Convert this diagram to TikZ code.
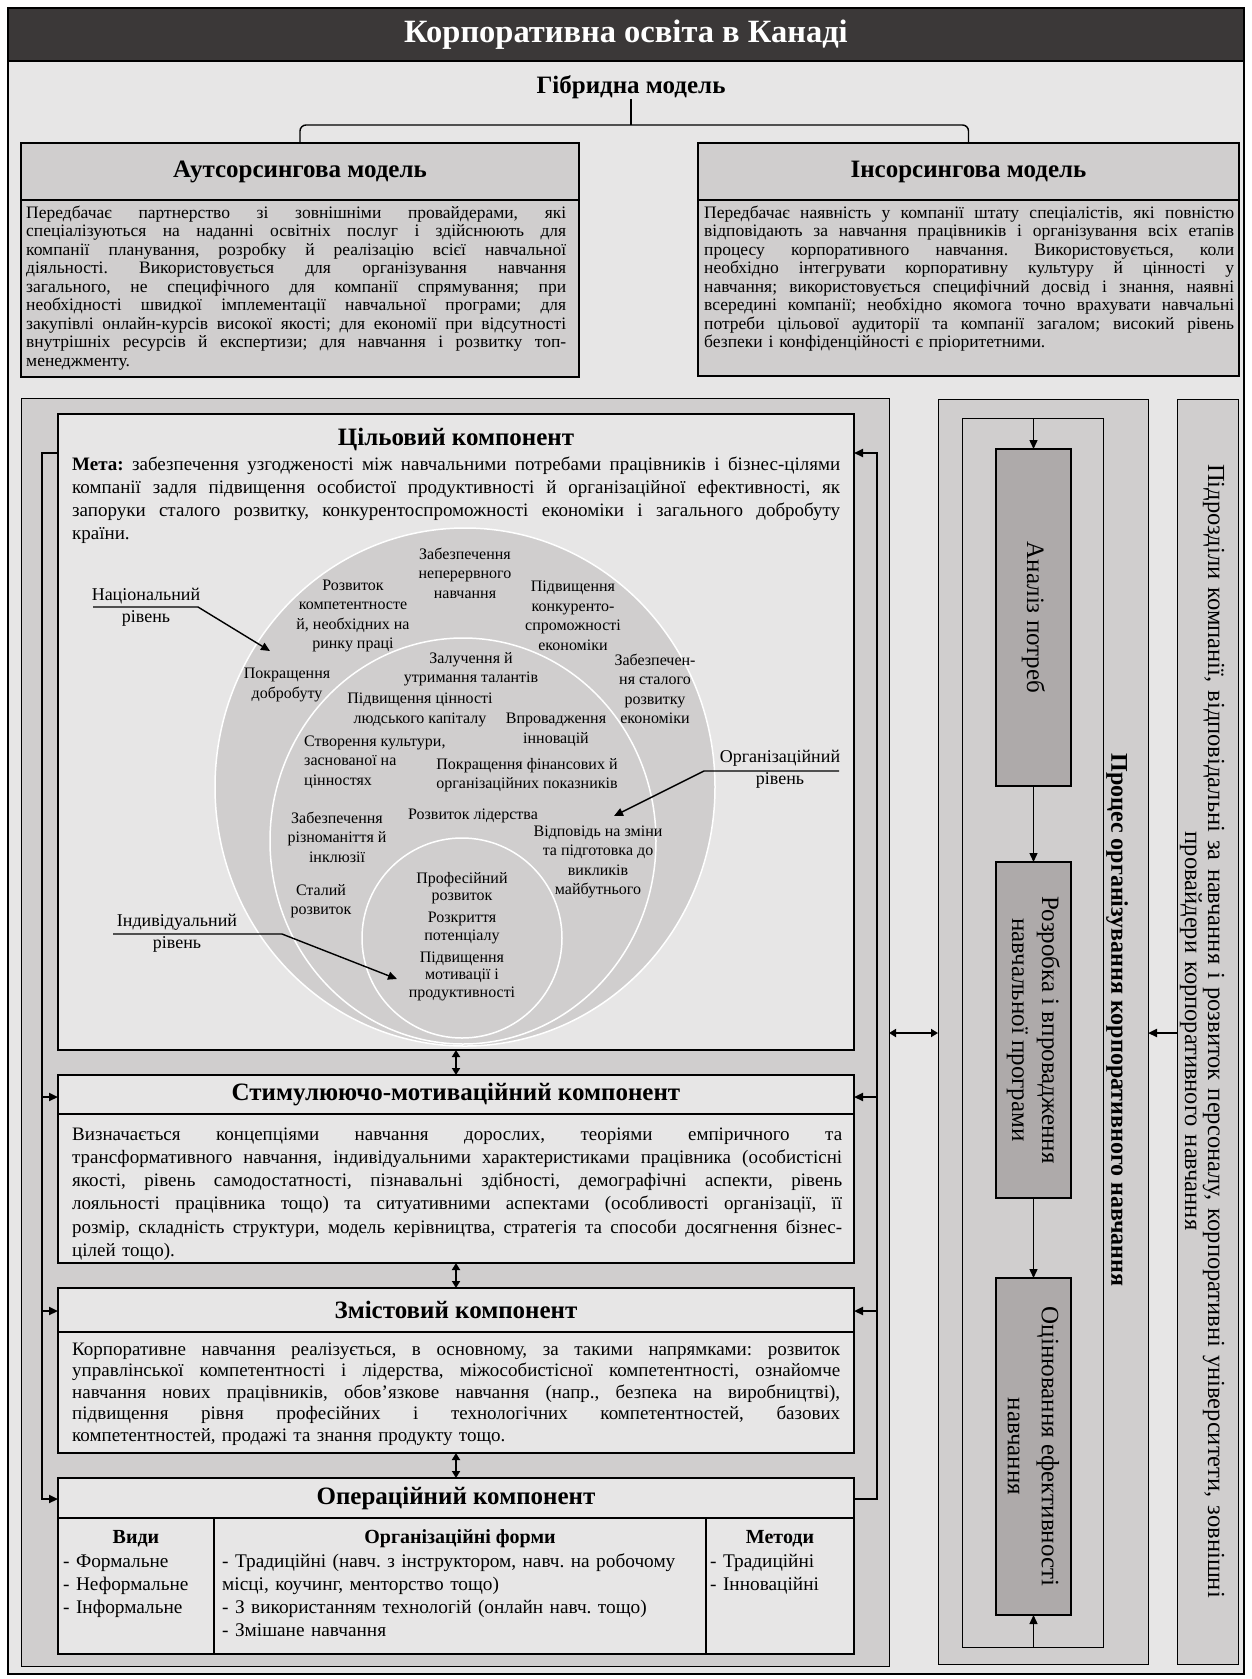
\documentclass[tikz,border=0pt]{standalone}
\usepackage{fontspec}
\setmainfont{Liberation Serif}
\usetikzlibrary{arrows.meta}
\definecolor{bg}{HTML}{E7E6E6}
\definecolor{band}{HTML}{3B3838}
\definecolor{pan}{HTML}{D0CECE}
\definecolor{dk}{HTML}{AEAAAA}
\newcommand\jl[1]{\hbox to\hsize{\spaceskip=0.25em plus 1fil\relax#1}\par}
\frenchspacing
\begin{document}
\begin{tikzpicture}[x=1pt,y=-1pt,
  >={Triangle[length=9pt,width=8pt]},
  bx/.style={draw=black, line width=1.2pt, fill=pan, inner sep=0pt, outer sep=0pt, anchor=north west},
  cb/.style={bx, fill=bg},
  db/.style={bx, fill=dk},
  ttl/.style={font=\bfseries\fontsize{25}{29}\selectfont, inner sep=0pt},
  txt/.style={anchor=base west, inner sep=0pt, align=left},
  conn/.style={line width=2pt, draw=black},
  thinarr/.style={line width=1.4pt, draw=black},
  dbl/.style={line width=2pt, {Triangle[length=7pt,width=8pt]}-{Triangle[length=7pt,width=8pt]}},
  lab/.style={font=\fontsize{16}{19.5}\selectfont, align=center, inner sep=0pt},
  ilab/.style={font=\fontsize{16}{17.5}\selectfont, align=center, inner sep=0pt},
  lvl/.style={font=\fontsize{18}{22}\selectfont, align=center, inner sep=0pt},
  rot/.style={rotate=-90, inner sep=0pt, align=center, font=\fontsize{25}{30}\selectfont}
]
\useasboundingbox (0,0) rectangle (1252,1679);
\fill[white] (0,0) rectangle (1252,1679);
% frame and title
\node[bx, fill=bg, line width=1.5pt, minimum width=1236pt, minimum height=1666pt] (frame) at (8,8) {};
\node[bx, fill=band, line width=1.5pt, minimum width=1236pt, minimum height=53pt] (band) at (8,8) {};
\node[font=\bfseries\fontsize{32.5}{37}\selectfont, text=white, inner sep=0pt] (title) at (band.center) {Корпоративна освіта в Канаді};
\node[font=\bfseries\fontsize{25}{29}\selectfont, inner sep=0pt] (hyb) at (631,87) {Гібридна модель};
% top boxes
\node[bx, minimum width=558pt, minimum height=57pt] (lh) at (21,143) {};
\node[bx, minimum width=558pt, minimum height=177pt] (lb) at (21,200) {};
\node[ttl] at (lh.center) {Аутсорсингова модель};
\node[bx, minimum width=541pt, minimum height=57pt] (rh) at (698,143) {};
\node[bx, minimum width=541pt, minimum height=176pt] (rb) at (698,200) {};
\node[ttl] at (rh.center) {Інсорсингова модель};
\coordinate (bc) at (631,125);
\draw[thinarr, rounded corners=6pt] (lh.north) -- (lh.north |- bc) -- (rh.north |- bc) -- (rh.north);
\draw[thinarr] (hyb.south) -- (bc);
\node[txt, text width=540pt, font=\fontsize{17.5}{18.5}\selectfont] (ltxt) at (26,218) {%
\jl{Передбачає партнерство зі зовнішніми провайдерами, які}
\jl{спеціалізуються на наданні освітніх послуг і здійснюють для}
\jl{компанії планування, розробку й реалізацію всієї навчальної}
\jl{діяльності. Використовується для організування навчання}
\jl{загального, не специфічного для компанії спрямування; при}
\jl{необхідності швидкої імплементації навчальної програми; для}
\jl{закупівлі онлайн-курсів високої якості; для економії при відсутності}
\jl{внутрішніх ресурсів й експертизи; для навчання і розвитку топ-}
менеджменту.};
\node[txt, text width=530pt, font=\fontsize{17.5}{18.5}\selectfont] (rtxt) at (704,218) {%
\jl{Передбачає наявність у компанії штату спеціалістів, які повністю}
\jl{відповідають за навчання працівників і організування всіх етапів}
\jl{процесу корпоративного навчання. Використовується, коли}
\jl{необхідно інтегрувати корпоративну культуру й цінності у}
\jl{навчання; використовується специфічний досвід і знання, наявні}
\jl{всередині компанії; необхідно якомога точно врахувати навчальні}
\jl{потреби цільової аудиторії та компанії загалом; високий рівень}
безпеки і конфіденційності є пріоритетними.};
% left panel
\node[bx, line width=1pt, minimum width=868pt, minimum height=1268pt] (lp) at (21,398) {};
\node[cb, minimum width=796pt, minimum height=636pt] (c1) at (58,414) {};
\node[ttl] (c1t) at (456,439) {Цільовий компонент};
\node[txt, text width=768pt, font=\fontsize{19}{23.3}\selectfont] (meta) at (72,470) {%
\jl{\textbf{Мета:} забезпечення узгодженості між навчальними потребами працівників і бізнес-цілями}
\jl{компанії задля підвищення особистої продуктивності й організаційної ефективності, як}
\jl{запоруки сталого розвитку, конкурентоспроможності економіки і загального добробуту}
країни.};
% ellipses
\draw[white, line width=1.5pt, fill=pan] (465,787) ellipse [x radius=250pt, y radius=259pt];
\draw[white, line width=1.5pt, fill=pan] (463,841) ellipse [x radius=193pt, y radius=203pt];
\draw[white, line width=1.5pt, fill=pan] (462,938) ellipse [x radius=100pt, y radius=100pt];
% circle labels
\node[lab] (n1) at (465,573) {Забезпечення\\неперервного\\навчання};
\node[lab] (n2) at (353,616) {Розвиток\\компетентносте\\й, необхідних на\\ринку праці};
\node[lab] (n3) at (573,616) {Підвищення\\конкуренто-\\спроможності\\економіки};
\node[lab] (o1) at (471,669) {Залучення й\\утримання талантів};
\node[lab] (n4) at (287,685) {Покращення\\добробуту};
\node[lab] (n5) at (655,689) {Забезпечен-\\ня сталого\\розвитку\\економіки};
\node[lab] (o2) at (420,710) {Підвищення цінності\\людського капіталу};
\node[lab] (o3) at (556,730) {Впровадження\\інновацій};
\node[lab, anchor=west, align=left] (o4) at (304,762) {Створення культури,\\заснованої на\\цінностях};
\node[lab] (o5) at (527,775) {Покращення фінансових й\\організаційних показників};
\node[lab] (o6) at (337,837) {Забезпечення\\різноманіття й\\інклюзії};
\node[lab] (o7) at (473,816) {Розвиток лідерства};
\node[lab] (o8) at (598,862) {Відповідь на зміни\\та підготовка до\\викликів\\майбутнього};
\node[lab] (o9) at (321,901) {Сталий\\розвиток};
\node[ilab] (i1) at (462,888) {Професійний\\розвиток};
\node[ilab] (i2) at (462,928) {Розкриття\\потенціалу};
\node[ilab] (i3) at (462,976) {Підвищення\\мотивації і\\продуктивності};
% level labels
\node[lvl] (nat) at (146,607) {Національний\\рівень};
\coordinate (natL) at (93,607); \coordinate (natR) at (198,607); \coordinate (natT) at (270,651);
\draw[thinarr, ->] (natL) -- (natR) -- (natT);
\node[lvl] (org) at (780,769) {Організаційний\\рівень};
\coordinate (orgR) at (839,771); \coordinate (orgL) at (704,771); \coordinate (orgT) at (614,816);
\draw[thinarr, ->] (orgR) -- (orgL) -- (orgT);
\node[lvl] (ind) at (177,933) {Індивідуальний\\рівень};
\coordinate (indL) at (113,934); \coordinate (indR) at (282,934); \coordinate (indT) at (397,979);
\draw[thinarr, ->] (indL) -- (indR) -- (indT);
% stimulus component
\node[cb, minimum width=796pt, minimum height=39pt] (c2h) at (58,1075) {};
\node[cb, minimum width=796pt, minimum height=149pt] (c2b) at (58,1114) {};
\node[ttl] at (c2h.center) {Стимулюючо-мотиваційний компонент};
\node[txt, text width=770pt, font=\fontsize{19}{23.3}\selectfont] (stim) at (72,1140) {%
\jl{Визначається концепціями навчання дорослих, теоріями емпіричного та}
\jl{трансформативного навчання, індивідуальними характеристиками працівника (особистісні}
\jl{якості, рівень самодостатності, пізнавальні здібності, демографічні аспекти, рівень}
\jl{лояльності працівника тощо) та ситуативними аспектами (особливості організації, її}
\jl{розмір, складність структури, модель керівництва, стратегія та способи досягнення бізнес-}
цілей тощо).};
% content component
\node[cb, minimum width=796pt, minimum height=44pt] (c3h) at (58,1288) {};
\node[cb, minimum width=796pt, minimum height=121pt] (c3b) at (58,1332) {};
\node[ttl] at (c3h.center) {Змістовий компонент};
\node[txt, text width=768pt, font=\fontsize{19}{21.5}\selectfont] (cont) at (72,1355) {%
\jl{Корпоративне навчання реалізується, в основному, за такими напрямками: розвиток}
\jl{управлінської компетентності і лідерства, міжособистісної компетентності, ознайомче}
\jl{навчання нових працівників, обов’язкове навчання (напр., безпека на виробництві),}
\jl{підвищення рівня професійних і технологічних компетентностей, базових}
компетентностей, продажі та знання продукту тощо.};
% operational component
\node[cb, minimum width=796pt, minimum height=40pt] (c4h) at (58,1478) {};
\node[ttl] at (c4h.center) {Операційний компонент};
\node[cb, minimum width=156pt, minimum height=136pt] (c4a) at (58,1518) {};
\node[cb, minimum width=492pt, minimum height=136pt] (c4b) at (214,1518) {};
\node[cb, minimum width=148pt, minimum height=136pt] (c4c) at (706,1518) {};
\node[font=\bfseries\fontsize{20}{23}\selectfont, anchor=base, inner sep=0pt] at (136,1543) {Види};
\node[font=\bfseries\fontsize{20}{23}\selectfont, anchor=base, inner sep=0pt] at (460,1543) {Організаційні форми};
\node[font=\bfseries\fontsize{20}{23}\selectfont, anchor=base, inner sep=0pt] at (780,1543) {Методи};
\node[txt, text width=150pt, font=\fontsize{19.3}{23.3}\selectfont] at (63,1567) {- Формальне\\- Неформальне\\- Інформальне};
\node[txt, text width=480pt, font=\fontsize{19.3}{23.3}\selectfont] at (222,1567) {- Традиційні (навч. з інструктором, навч. на робочому\\місці, коучинг, менторство тощо)\\- З використанням технологій (онлайн навч. тощо)\\- Змішане навчання};
\node[txt, text width=140pt, font=\fontsize{19.3}{23.3}\selectfont] at (710,1567) {- Традиційні\\- Інноваційні};
% vertical double arrows
\draw[dbl] (c1.south) -- (c2h.north);
\draw[dbl] (c2b.south) -- (c3h.north);
\draw[dbl] (c3b.south) -- (c4h.north);
% side connectors
\coordinate (l1) at (42,453); \coordinate (l2) at (42,1097); \coordinate (l3) at (42,1311); \coordinate (l4) at (42,1499);
\coordinate (r1) at (877,453); \coordinate (r2) at (877,1097); \coordinate (r3) at (877,1311); \coordinate (r4) at (877,1499);
\draw[conn, ->] (c1.west |- l1) -- (l1) -- (l4) -- (c4h.west |- l4);
\draw[conn, ->] (l2) -- (c2h.west |- l2);
\draw[conn, ->] (l3) -- (c3h.west |- l3);
\draw[conn, ->] (c4h.east |- r4) -- (r4) -- (r1) -- (c1.east |- r1);
\draw[conn, ->] (r2) -- (c2h.east |- r2);
\draw[conn, ->] (r3) -- (c3h.east |- r3);
% middle panel
\node[bx, line width=1pt, minimum width=210pt, minimum height=1265pt] (mp) at (938,399) {};
\node[bx, line width=1pt, minimum width=141pt, minimum height=1229pt] (mi) at (962,418) {};
\node[db, minimum width=75pt, minimum height=337pt] (a1) at (996,449) {};
\node[db, minimum width=75pt, minimum height=336pt] (a2) at (996,862) {};
\node[db, minimum width=75pt, minimum height=337pt] (a3) at (996,1278) {};
\node[rot] at (a1.center) {Аналіз потреб};
\node[rot, font=\fontsize{25}{30}\selectfont] at (a2.center) {Розробка і впровадження\\навчальної програми};
\node[rot, font=\fontsize{25}{34}\selectfont] at (a3.center) {Оцінювання ефективності\\навчання};
\node[rot, font=\bfseries\fontsize{24}{28}\selectfont] (proc) at (1117,1020) {Процес організування корпоративного навчання};
\draw[thinarr, ->] (a1.north |- mi.north) -- (a1.north);
\draw[thinarr, ->] (a1.south) -- (a2.north);
\draw[thinarr, ->] (a2.south) -- (a3.north);
\draw[thinarr, ->] (a3.south |- mi.south) -- (a3.south);
% right panel
\node[bx, line width=1pt, minimum width=61pt, minimum height=1265pt] (tp) at (1177,399) {};
\node[rot, font=\fontsize{24.5}{23}\selectfont, text width=1200pt] (tpt) at (1202,1031) {Підрозділи компанії, відповідальні за навчання і розвиток персоналу, корпоративні університети, зовнішні\\провайдери корпоративного навчання};
% horizontal arrows
\coordinate (ym) at (0,1033);
\draw[dbl] (lp.east |- ym) -- (mp.west |- ym);
\draw[conn, ->] (tp.west |- ym) -- (mp.east |- ym);
\end{tikzpicture}
\end{document}
